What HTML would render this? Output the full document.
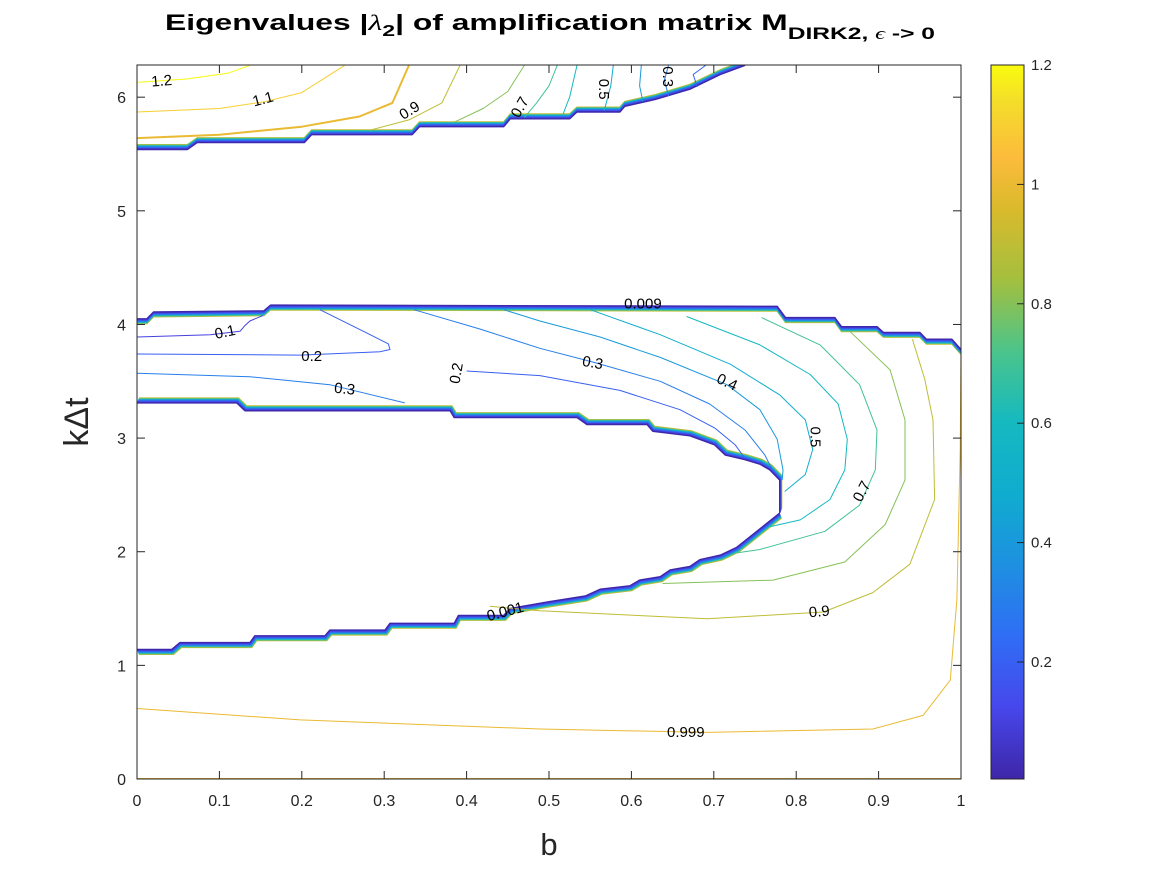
<!DOCTYPE html>
<html><head><meta charset="utf-8"><style>
html,body{margin:0;padding:0;background:#fff;}
svg{display:block;font-family:"Liberation Sans",Arial,sans-serif;}
</style></head><body>
<svg id="chart" width="1167" height="875" viewBox="0 0 1167 875">
<g id="plot"></g>
</svg>
<script>
// ---- data (b, k∆t) ----
const xTicks=[0,0.1,0.2,0.3,0.4,0.5,0.6,0.7,0.8,0.9,1];
const xTickLabels=["0","0.1","0.2","0.3","0.4","0.5","0.6","0.7","0.8","0.9","1"];
const yTicks=[0,1,2,3,4,5,6];
const yTickLabels=["0","1","2","3","4","5","6"];
const cbTicks=[0.2,0.4,0.6,0.8,1,1.2];
const cbTickLabels=["0.2","0.4","0.6","0.8","1","1.2"];
const levels=[1.2,1.1,1.0,0.9,0.8,0.7,0.6,0.5,0.4,0.3,0.2,
              0.1,0.2,0.3,0.2,0.3,0.4,0.5,0.6,0.7,0.8,0.9,0.999,1.0];
const contours=[
 [[0,6.13],[0.06,6.16],[0.11,6.21],[0.137,6.28]],
 [[0,5.87],[0.1,5.9],[0.155,5.96],[0.2,6.04],[0.252,6.28]],
 [[0,5.64],[0.1,5.67],[0.2,5.74],[0.27,5.83],[0.31,5.95],[0.33,6.28]],
 [[0.283,5.71],[0.33,5.8],[0.37,5.95],[0.392,6.28]],
 [[0.385,5.78],[0.42,5.9],[0.45,6.05],[0.47,6.28]],
 [[0.47,5.82],[0.485,5.95],[0.5,6.1],[0.51,6.28]],
 [[0.517,5.85],[0.525,6.0],[0.534,6.28]],
 [[0.567,5.88],[0.575,6.1],[0.578,6.28]],
 [[0.614,5.96],[0.61,6.1],[0.612,6.28]],
 [[0.645,6.01],[0.64,6.15],[0.645,6.28]],
 [[0.68,6.09],[0.675,6.2],[0.69,6.28]],
 [[0,3.89],[0.089,3.91],[0.125,3.94],[0.131,3.99],[0.137,4.03],[0.153,4.08]],
 [[0,3.74],[0.198,3.73],[0.295,3.76],[0.307,3.78],[0.305,3.83],[0.283,3.91],[0.222,4.13]],
 [[0,3.57],[0.137,3.54],[0.234,3.47],[0.325,3.31]],
 [[0.4,3.59],[0.489,3.55],[0.586,3.42],[0.659,3.25],[0.701,3.09],[0.726,2.94],[0.738,2.82]],
 [[0.336,4.13],[0.416,3.96],[0.489,3.79],[0.553,3.67],[0.635,3.5],[0.695,3.3],[0.738,3.07],[0.762,2.85],[0.771,2.72]],
 [[0.445,4.13],[0.489,4.03],[0.562,3.89],[0.635,3.71],[0.716,3.47],[0.756,3.25],[0.777,2.99],[0.784,2.72],[0.783,2.63]],
 [[0.55,4.13],[0.635,3.91],[0.72,3.65],[0.78,3.38],[0.811,3.16],[0.82,2.9],[0.811,2.68],[0.786,2.53]],
 [[0.667,4.07],[0.756,3.82],[0.817,3.56],[0.851,3.3],[0.862,2.99],[0.859,2.72],[0.841,2.46],[0.805,2.28],[0.768,2.22]],
 [[0.758,4.06],[0.829,3.82],[0.877,3.47],[0.898,3.07],[0.896,2.72],[0.877,2.41],[0.835,2.18],[0.756,2.02],[0.728,1.99]],
 [[0.865,3.94],[0.914,3.6],[0.932,3.16],[0.932,2.63],[0.908,2.24],[0.859,1.91],[0.772,1.75],[0.638,1.72]],
 [[0.941,3.87],[0.956,3.52],[0.966,3.16],[0.968,2.46],[0.938,1.89],[0.893,1.64],[0.833,1.47],[0.692,1.41],[0.489,1.48],[0.428,1.52]],
 [[0,0.62],[0.198,0.52],[0.489,0.44],[0.692,0.41],[0.893,0.44],[0.954,0.56],[0.987,0.87],[0.995,1.58],[0.999,2.9],[1,3.78]],
 [[0,0.0],[1,0.0]]
];
// singular-boundary bands (edges where many levels pile up)
const bandTop=[[0,5.54],[0.061,5.54],[0.073,5.6],[0.203,5.6],[0.212,5.67],[0.334,5.67],[0.343,5.74],[0.445,5.74],[0.453,5.81],[0.525,5.81],[0.534,5.87],[0.586,5.87],[0.592,5.92],[0.629,5.98],[0.671,6.07],[0.708,6.2],[0.738,6.28]];
const bandMid=[[0,4.05],[0.012,4.05],[0.02,4.11],[0.154,4.12],[0.162,4.17],[0.777,4.16],[0.787,4.06],[0.847,4.06],[0.855,3.98],[0.898,3.98],[0.906,3.93],[0.95,3.93],[0.958,3.87],[0.989,3.87],[1,3.78]];
const bandInner=[[0,3.31],[0.121,3.31],[0.131,3.24],[0.38,3.24],[0.385,3.18],[0.534,3.18],[0.546,3.12],[0.619,3.12],[0.626,3.06],[0.671,3.02],[0.701,2.94],[0.714,2.85],[0.738,2.81],[0.756,2.77],[0.768,2.72],[0.78,2.63],[0.78,2.34]];
const bandLower=[[0.78,2.34],[0.728,2.04],[0.708,1.97],[0.683,1.93],[0.671,1.87],[0.647,1.84],[0.635,1.78],[0.61,1.75],[0.598,1.7],[0.562,1.67],[0.544,1.61],[0.5,1.56],[0.453,1.5],[0.445,1.44],[0.39,1.44],[0.385,1.37],[0.307,1.37],[0.301,1.31],[0.234,1.31],[0.228,1.26],[0.143,1.26],[0.137,1.2],[0.052,1.2],[0.042,1.14],[0,1.14]];
const bandLevels=[0.009,0.1,0.2,0.3,0.5,0.7,0.9];
const labelTexts=["1.2","1.1","0.9","0.7","0.5","0.3","0.1","0.2","0.3","0.2","0.009","0.3","0.4","0.5","0.7","0.001","0.9","0.999"];
const labelPos=[[0.03,6.14],[0.153,5.98],[0.331,5.88],[0.465,5.91],[0.566,6.07],[0.644,6.18],[0.107,3.93],[0.212,3.72],[0.252,3.43],[0.388,3.57],[0.614,4.18],[0.553,3.66],[0.716,3.49],[0.823,3.01],[0.88,2.53],[0.447,1.47],[0.828,1.47],[0.666,0.41]];
const labelRot=[-5,-15,-32,-60,90,90,-12,0,6,-80,0,10,25,90,-62,-15,-5,0];

// ---- axes ----
const X0=137,X1=961,YB=779,KMAX=2*Math.PI,YT=65;
const xs=b=>X0+b*(X1-X0);
const ys=k=>YB-k*(YB-YT)/KMAX;
const CMIN=0.004,CMAX=1.2,CB0=779,CB1=65;
const cs=v=>CB0-(v-CMIN)/(CMAX-CMIN)*(CB0-CB1);
const stops=[[0,"#3e26a8"],[0.1,"#4747eb"],[0.2,"#2f6ef5"],[0.3,"#1e90e0"],[0.4,"#10accf"],[0.5,"#15b9c0"],[0.6,"#4cc48a"],[0.7,"#a4bf3e"],[0.8,"#dbba2c"],[0.87,"#fcbb3c"],[0.95,"#f4de2a"],[1,"#f9fb0e"]];
function hex(h){return [1,3,5].map(i=>parseInt(h.substr(i,2),16));}
function color(v){let t=Math.max(0,Math.min(1,(v-CMIN)/(CMAX-CMIN)));
 for(let i=1;i<stops.length;i++){if(t<=stops[i][0]){const a=stops[i-1],b=stops[i];const f=(t-a[0])/(b[0]-a[0]);const ca=hex(a[1]),cb=hex(b[1]);return "rgb("+ca.map((c,j)=>Math.round(c+(cb[j]-c)*f)).join(",")+")";}}
 return stops[stops.length-1][1];}
const NS="http://www.w3.org/2000/svg";
const svg=document.getElementById("chart");
const plot=document.getElementById("plot");
function mk(tag,attrs,parent){const e=document.createElementNS(NS,tag);for(const k in attrs)e.setAttribute(k,attrs[k]);(parent||svg).appendChild(e);return e;}
function pts(arr){return arr.map(p=>xs(p[0]).toFixed(1)+","+ys(p[1]).toFixed(1)).join(" ");}

const defs=mk("defs",{});
const cp=mk("clipPath",{id:"clip"},defs);
mk("rect",{x:X0,y:YT,width:X1-X0,height:YB-YT},cp);
plot.setAttribute("clip-path","url(#clip)");

function band(arr,dx,dy,name){
 for(let i=bandLevels.length-1;i>=0;i--){
  const pl=mk("polyline",{points:pts(arr),fill:"none",stroke:color(bandLevels[i]),"stroke-width":1.4,"stroke-linejoin":"round",transform:"translate("+(dx*i*0.8)+","+(dy*i*0.8)+")"},plot);
  
  
 }
}
band(bandTop,0,-1,"top-boundary-band");
band(bandMid,0,1,"middle-boundary-band");
band(bandInner,0.4,-1,"inner-boundary-band");
band(bandLower,0.4,1,"lower-boundary-band");

contours.forEach((c,i)=>{
 const pl=mk("polyline",{points:pts(c),fill:"none",stroke:color(levels[i]),"stroke-width":levels[i]===1.0?2:1,"stroke-linejoin":"round"},plot);
 
 
});

labelTexts.forEach((t,i)=>{
 const x=xs(labelPos[i][0]),y=ys(labelPos[i][1]);
 const tx=mk("text",{x:x,y:y,"font-size":15,"text-anchor":"middle","dominant-baseline":"central",fill:"#000",transform:"rotate("+labelRot[i]+" "+x+" "+y+")"});
 tx.textContent=t;
 
 
});

const box=mk("rect",{x:X0,y:YT,width:X1-X0,height:YB-YT,fill:"none",stroke:"#262626","stroke-width":1});


xTicks.forEach((v,i)=>{
 const x=xs(v);
 mk("line",{x1:x,x2:x,y1:YB,y2:YB-8,stroke:"#262626"});
 mk("line",{x1:x,x2:x,y1:YT,y2:YT+8,stroke:"#262626"});
 const t=mk("text",{x:x,y:YB+27,"font-size":16,"text-anchor":"middle",fill:"#262626"});
 t.textContent=xTickLabels[i];
 
 
});
yTicks.forEach((v,i)=>{
 const y=ys(v);
 mk("line",{x1:X0,x2:X0+8,y1:y,y2:y,stroke:"#262626"});
 mk("line",{x1:X1,x2:X1-8,y1:y,y2:y,stroke:"#262626"});
 const t=mk("text",{x:X0-11,y:y+6,"font-size":16,"text-anchor":"end",fill:"#262626"});
 t.textContent=yTickLabels[i];
 
 
});
const xl=mk("text",{x:549,y:855,"font-size":31,"text-anchor":"middle",fill:"#262626"});
xl.textContent="b";


const yl=mk("text",{x:88,y:422,"font-size":34,"text-anchor":"middle",fill:"#262626",transform:"rotate(-90 88 422)"});
yl.textContent="k\u0394t";



const tt=mk("text",{x:165,y:30,"font-size":22,"font-weight":"bold",fill:"#000",textLength:770,lengthAdjust:"spacingAndGlyphs"});


tt.innerHTML='Eigenvalues |<tspan font-family="Liberation Serif" font-style="italic" font-weight="normal">\u03bb</tspan><tspan font-size="16" dy="6">2</tspan><tspan dy="-6">| of amplification matrix M</tspan><tspan font-size="17" dy="9">DIRK2, <tspan font-family="Liberation Serif" font-style="italic" font-weight="normal">\u03f5</tspan> -&gt; 0</tspan>';

const lg=mk("linearGradient",{id:"parula",x1:0,y1:1,x2:0,y2:0},defs);
stops.forEach(s=>mk("stop",{offset:s[0],"stop-color":s[1]},lg));
const cb=mk("rect",{x:991,y:CB1,width:33,height:CB0-CB1,fill:"url(#parula)",stroke:"#262626","stroke-width":1});


cbTicks.forEach((v,i)=>{
 const y=cs(v);
 mk("line",{x1:1024,x2:1017,y1:y,y2:y,stroke:"#262626"});
 const t=mk("text",{x:1031,y:y+5,"font-size":15,fill:"#262626"});
 t.textContent=cbTickLabels[i];
 
 
});
</script>
</body></html>
